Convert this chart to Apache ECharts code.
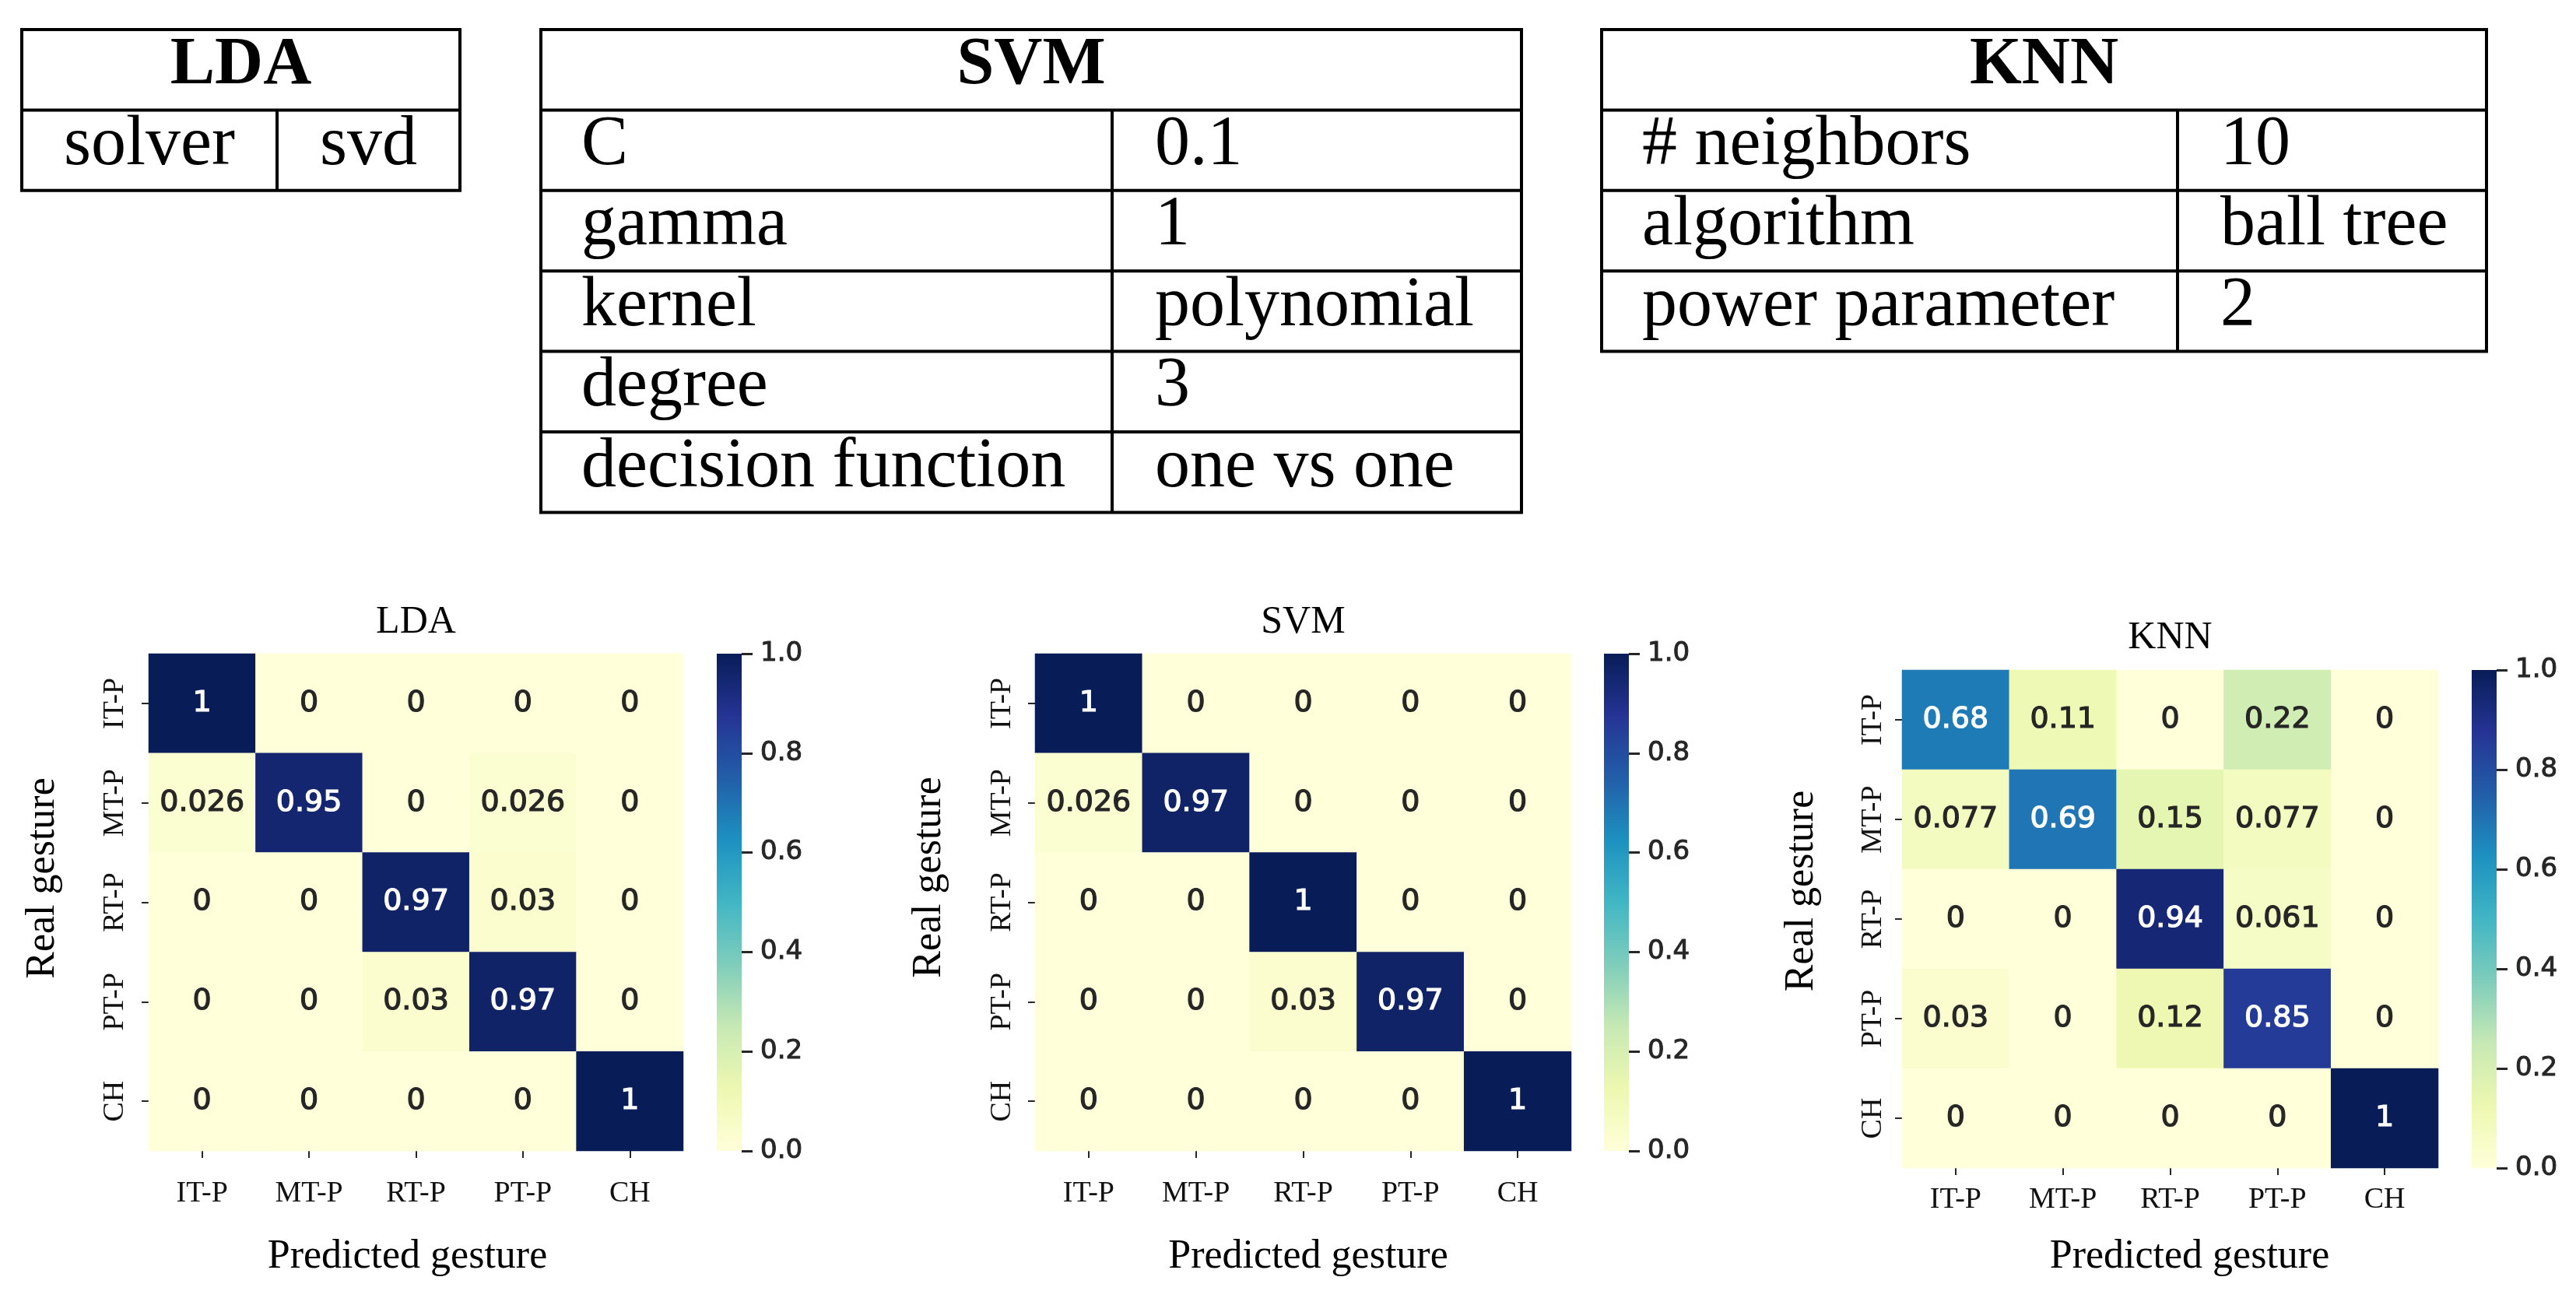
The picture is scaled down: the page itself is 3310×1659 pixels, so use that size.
<!DOCTYPE html>
<html>
<head>
<meta charset="utf-8">
<script src="https://cdn.jsdelivr.net/npm/echarts@6/dist/echarts.min.js"></script>
<style>
  html, body { margin: 0; padding: 0; background: #fff; }
  #chart { width: 3310px; height: 1659px; }
</style>
</head>
<body>
<div id="chart"></div>
<script>
// ---------------- data ----------------
const categories = ['IT-P', 'MT-P', 'RT-P', 'PT-P', 'CH'];
const titles = ['LDA', 'SVM', 'KNN'];
// rows = real gesture, cols = predicted gesture
const ldaMatrix = [
  [1, 0, 0, 0, 0],
  [0.026, 0.95, 0, 0.026, 0],
  [0, 0, 0.97, 0.03, 0],
  [0, 0, 0.03, 0.97, 0],
  [0, 0, 0, 0, 1]
];
const svmMatrix = [
  [1, 0, 0, 0, 0],
  [0.026, 0.97, 0, 0, 0],
  [0, 0, 1, 0, 0],
  [0, 0, 0.03, 0.97, 0],
  [0, 0, 0, 0, 1]
];
const knnMatrix = [
  [0.68, 0.11, 0, 0.22, 0],
  [0.077, 0.69, 0.15, 0.077, 0],
  [0, 0, 0.94, 0.061, 0],
  [0.03, 0, 0.12, 0.85, 0],
  [0, 0, 0, 0, 1]
];
const ldaParams = [['solver', 'svd']];
const svmParams = [['C', '0.1'], ['gamma', '1'], ['kernel', 'polynomial'], ['degree', '3'], ['decision function', 'one vs one']];
const knnParams = [['# neighbors', '10'], ['algorithm', 'ball tree'], ['power parameter', '2']];
const xAxisName = 'Predicted gesture';
const yAxisName = 'Real gesture';
const colorbarMin = 0, colorbarMax = 1, colorbarStep = 0.2;
const ylgnbu = ['#ffffd9', '#edf8b1', '#c7e9b4', '#7fcdbb', '#41b6c4', '#1d91c0', '#225ea8', '#253494', '#081d58'];

// ---------------- layout ----------------
const SERIF = '"Liberation Serif", "Times New Roman", serif';
const SANS = '"DejaVu Sans", sans-serif';
const DARK = '#262626';

const panels = [
  { grid: { left: 191, top: 840, width: 687, height: 639 }, cbLeft: 921, cbWidth: 32,
    xLabelMargin: 36, yLabelMargin: 24, xNameGap: 110, yNameGap: 110,
    xNamePad: [0, 22, 0, 0], yNamePad: [0, 0, 0, 62], titleTop: 775 },
  { grid: { left: 1330, top: 840, width: 689, height: 639 }, cbLeft: 2061, cbWidth: 32,
    xLabelMargin: 36, yLabelMargin: 23, xNameGap: 110, yNameGap: 110,
    xNamePad: [0, 0, 0, 13], yNamePad: [0, 0, 0, 64], titleTop: 775 },
  { grid: { left: 2444, top: 861, width: 689, height: 640 }, cbLeft: 3176, cbWidth: 32,
    xLabelMargin: 22, yLabelMargin: 18, xNameGap: 88, yNameGap: 103,
    xNamePad: [0, 0, 0, 50], yNamePad: [0, 0, 0, 72], titleTop: 795 }
];
const matrices = [ldaMatrix, svmMatrix, knnMatrix];

function fmt2g(v) { return String(Number(v.toPrecision(2))); }

const grids = [], xAxes = [], yAxes = [], series = [], visualMaps = [], titleComps = [];

panels.forEach((p, i) => {
  grids.push(Object.assign({ containLabel: false, outerBoundsMode: 'none' }, p.grid));
  xAxes.push({
    type: 'category', gridIndex: i, data: categories,
    axisLine: { show: false },
    axisTick: { show: true, alignWithLabel: true, length: 9, lineStyle: { color: DARK, width: 2 } },
    axisLabel: { margin: p.xLabelMargin, fontFamily: SERIF, fontSize: 38, color: '#111' },
    splitLine: { show: false },
    name: xAxisName, nameLocation: 'middle', nameGap: p.xNameGap,
    nameTextStyle: { fontFamily: SERIF, fontSize: 52, color: '#000', padding: p.xNamePad }
  });
  yAxes.push({
    type: 'category', gridIndex: i, data: categories, inverse: true,
    axisLine: { show: false },
    axisTick: { show: true, alignWithLabel: true, length: 9, lineStyle: { color: DARK, width: 2 } },
    axisLabel: { rotate: 90, margin: p.yLabelMargin, fontFamily: SERIF, fontSize: 38, color: '#111' },
    splitLine: { show: false },
    name: yAxisName, nameLocation: 'middle', nameGap: p.yNameGap,
    nameTextStyle: { fontFamily: SERIF, fontSize: 52, color: '#000', padding: p.yNamePad }
  });
  const data = [];
  matrices[i].forEach((row, r) => {
    row.forEach((v, c) => {
      const col = v > 0.5 ? '#ffffff' : DARK;
      data.push({ value: [c, r, v], label: { color: col, textBorderColor: col, textBorderWidth: 1.2 } });
    });
  });
  series.push({
    type: 'heatmap', xAxisIndex: i, yAxisIndex: i, data: data,
    itemStyle: { borderWidth: 0 },
    emphasis: { disabled: true },
    label: { show: true, fontFamily: SANS, fontSize: 38, formatter: (q) => fmt2g(q.value[2]) }
  });
  visualMaps.push({
    type: 'continuous', show: false, seriesIndex: i, dimension: 2,
    min: colorbarMin, max: colorbarMax,
    inRange: { color: ylgnbu }
  });
  titleComps.push({
    text: titles[i], left: p.grid.left + p.grid.width / 2, top: p.titleTop, textAlign: 'center', padding: 0,
    textStyle: { fontFamily: SERIF, fontSize: 50, fontWeight: 'normal', color: '#000' }
  });
});

// colorbars: one full-height bar with the colormap gradient, on its own value axis
const cbStops = ylgnbu.map((c, k) => ({ offset: k / (ylgnbu.length - 1), color: c }));
panels.forEach((p, i) => {
  const gi = 3 + i;
  grids.push({ left: p.cbLeft, top: p.grid.top, width: p.cbWidth, height: p.grid.height, containLabel: false, outerBoundsMode: 'none' });
  xAxes.push({ type: 'category', gridIndex: gi, data: [''], show: false });
  yAxes.push({
    type: 'value', gridIndex: gi, position: 'right', min: colorbarMin, max: colorbarMax, interval: colorbarStep,
    axisLine: { show: false },
    axisTick: { show: true, inside: false, length: 14, lineStyle: { color: DARK, width: 3 } },
    axisLabel: { margin: 24, fontFamily: SANS, fontSize: 34, color: DARK, formatter: (v) => v.toFixed(1),
                 textBorderColor: DARK, textBorderWidth: 1 },
    splitLine: { show: false }
  });
  series.push({
    type: 'bar', xAxisIndex: gi, yAxisIndex: gi, data: [colorbarMax], barWidth: '100%', silent: true,
    itemStyle: { color: new echarts.graphic.LinearGradient(0, 1, 0, 0, cbStops) }
  });
});

// ---------------- parameter tables (graphic) ----------------
const LW = 4;
function tableGraphics(x0, x1, xMid, yTop, rowH, header, rows, centered) {
  const els = [];
  const nRows = rows.length + 1;
  const ys = [];
  for (let k = 0; k <= nRows; k++) ys.push(yTop + k * rowH);
  ys.forEach(y => els.push({ type: 'line', shape: { x1: x0 - LW / 2, y1: y, x2: x1 + LW / 2, y2: y }, style: { stroke: '#000', lineWidth: LW } }));
  [x0, x1].forEach(x => els.push({ type: 'line', shape: { x1: x, y1: ys[0], x2: x, y2: ys[nRows] }, style: { stroke: '#000', lineWidth: LW } }));
  els.push({ type: 'line', shape: { x1: xMid, y1: ys[1], x2: xMid, y2: ys[nRows] }, style: { stroke: '#000', lineWidth: LW } });
  els.push({ type: 'text', x: (x0 + x1) / 2, y: ys[0] + 47, style: { text: header, fontFamily: SERIF, fontSize: 86, fontWeight: 'bold', fill: '#000', align: 'center', verticalAlign: 'middle' } });
  rows.forEach((r, k) => {
    const y = ys[k + 1] + 46;
    if (centered) {
      els.push({ type: 'text', x: (x0 + xMid) / 2, y: y, style: { text: r[0], fontFamily: SERIF, fontSize: 90, fill: '#000', align: 'center', verticalAlign: 'middle' } });
      els.push({ type: 'text', x: (xMid + x1) / 2, y: y, style: { text: r[1], fontFamily: SERIF, fontSize: 90, fill: '#000', align: 'center', verticalAlign: 'middle' } });
    } else {
      els.push({ type: 'text', x: x0 + 52, y: y, style: { text: r[0], fontFamily: SERIF, fontSize: 90, fill: '#000', align: 'left', verticalAlign: 'middle' } });
      els.push({ type: 'text', x: xMid + 55, y: y, style: { text: r[1], fontFamily: SERIF, fontSize: 90, fill: '#000', align: 'left', verticalAlign: 'middle' } });
    }
  });
  return els;
}
const graphics = []
  .concat(tableGraphics(28, 591, 356, 38, 103.4, titles[0], ldaParams, true))
  .concat(tableGraphics(695, 1955, 1429, 38, 103.4, titles[1], svmParams, false))
  .concat(tableGraphics(2058, 3195, 2798, 38, 103.4, titles[2], knnParams, false));

const chart = echarts.init(document.getElementById('chart'), null, { renderer: 'canvas' });
chart.setOption({
  backgroundColor: '#ffffff',
  animation: false,
  title: titleComps,
  grid: grids,
  xAxis: xAxes,
  yAxis: yAxes,
  visualMap: visualMaps,
  series: series,
  graphic: { elements: graphics }
});
</script>
</body>
</html>
